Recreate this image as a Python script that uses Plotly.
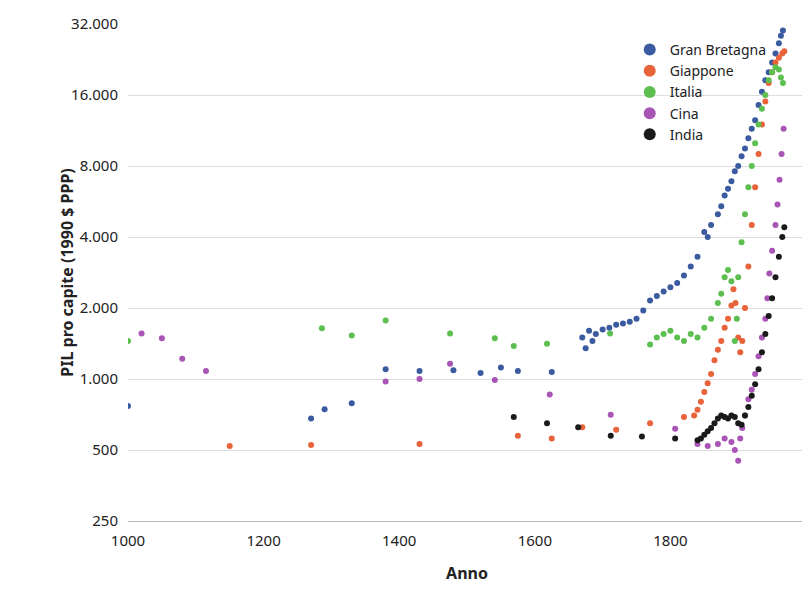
import plotly.graph_objects as go

# Year / GDP per capita (1990 $ PPP)
gb_years = [1000, 1270, 1290, 1330, 1380, 1430, 1480, 1520, 1550, 1575, 1625,
            1670, 1675, 1680, 1685, 1690, 1700, 1710, 1720, 1730, 1740, 1750, 1760,
            1770, 1780, 1790, 1800, 1810, 1820, 1830, 1840, 1850, 1855, 1860,
            1870, 1875, 1880, 1885, 1890, 1895, 1900, 1905, 1910, 1915, 1920,
            1925, 1930, 1935, 1940, 1945, 1950, 1955, 1960, 1963, 1966]
gb_vals = [768, 680, 745, 790, 1100, 1080, 1090, 1060, 1120, 1080, 1070,
           1500, 1350, 1600, 1450, 1550, 1620, 1650, 1700, 1720, 1750, 1800, 1950,
           2150, 2250, 2350, 2450, 2550, 2750, 3000, 3300, 4200, 4000, 4500,
           5000, 5400, 6000, 6400, 6900, 7600, 8000, 8800, 9500, 10500, 11500,
           12500, 14500, 16500, 18500, 20000, 22000, 24000, 26500, 28500, 30000]

jp_years = [1150, 1270, 1430, 1575, 1625, 1670, 1720, 1770, 1820,
            1835, 1840, 1845, 1850, 1855, 1860, 1865, 1870, 1875, 1880, 1885,
            1890, 1893, 1896, 1900, 1903, 1906, 1910, 1915, 1920, 1925, 1930,
            1935, 1940, 1945, 1950, 1955, 1960, 1965, 1968]
jp_vals = [520, 525, 530, 575, 560, 625, 610, 650, 690,
           700, 740, 800, 880, 960, 1050, 1200, 1330, 1450, 1650, 1800,
           2050, 2400, 2100, 1500, 1300, 1450, 2000, 3000, 4500, 6500, 9000,
           12000, 15000, 18000, 20000, 22000, 23000, 24000, 24500]

it_years = [1000, 1286, 1330, 1380, 1475, 1541, 1569, 1618, 1711,
            1770, 1780, 1790, 1800, 1810, 1820, 1830, 1840, 1850, 1860,
            1870, 1875, 1880, 1885, 1890, 1895, 1898, 1900, 1905, 1910, 1915,
            1920, 1925, 1930, 1935, 1940, 1945, 1950, 1955, 1960, 1963, 1966]
it_vals = [1450, 1640, 1530, 1770, 1560, 1490, 1380, 1410, 1560,
           1400, 1500, 1550, 1600, 1500, 1450, 1550, 1500, 1650, 1800,
           2100, 2300, 2700, 2900, 2600, 1450, 1800, 2700, 3800, 5000, 6500,
           8000, 10000, 12000, 14000, 16000, 18500, 20000, 21000, 20500, 19000, 18000]

cn_years = [1020, 1050, 1080, 1115, 1380, 1430, 1475, 1541, 1622, 1712, 1807,
            1840, 1855, 1870, 1880, 1890, 1895, 1900, 1903, 1906, 1910, 1915,
            1920, 1925, 1930, 1935, 1940, 1943, 1946, 1950, 1955, 1958, 1961,
            1964, 1967]
cn_vals = [1560, 1490, 1220, 1080, 975, 1000, 1160, 990, 860, 705, 615,
           530, 520, 530, 560, 540, 500, 450, 560, 620, 700, 820,
           900, 1050, 1250, 1500, 1800, 2200, 2800, 3500, 4500, 5500, 7000,
           9000, 11500]

in_years = [1569, 1618, 1664, 1712, 1758, 1807, 1840, 1845, 1850, 1855, 1860,
            1865, 1870, 1875, 1880, 1885, 1890, 1895, 1900, 1905, 1910,
            1915, 1920, 1925, 1930, 1935, 1940, 1945, 1950, 1955, 1960, 1965, 1968]
in_vals = [690, 650, 625, 575, 570, 560, 550, 560, 580, 600, 620,
           650, 680, 700, 690, 680, 700, 690, 650, 640, 700,
           760, 850, 950, 1100, 1300, 1550, 1850, 2200, 2700, 3300, 4000, 4400]

series = [("Gran Bretagna", gb_years, gb_vals, "#3a5ba0"),
          ("Giappone", jp_years, jp_vals, "#e8623a"),
          ("Italia", it_years, it_vals, "#5cbf4f"),
          ("Cina", cn_years, cn_vals, "#a855b5"),
          ("India", in_years, in_vals, "#1a1a1a")]

y_ticks = [250, 500, 1000, 2000, 4000, 8000, 16000, 32000]
y_labels = ["250", "500", "1.000", "2.000", "4.000", "8.000", "16.000", "32.000"]

fig = go.Figure()
for name, xs, ys, col in series:
    fig.add_trace(go.Scatter(x=xs, y=ys, name=name, mode="markers",
                             marker=dict(color=col, size=6)))

fig.update_layout(
    width=810, height=590,
    template="none",
    font=dict(family="Noto Sans", size=15, color="#222"),
    margin=dict(l=120, r=12, t=16, b=77),
    plot_bgcolor="white", paper_bgcolor="white",
    legend=dict(x=0.74, y=0.98, xanchor="left", yanchor="top",
                font=dict(size=14), itemsizing="constant", bgcolor="rgba(0,0,0,0)"),
    xaxis=dict(range=[1000, 2000], tickvals=[1000, 1200, 1400, 1600, 1800, 2000],
               showgrid=False, showline=True, linecolor="#bbb",
               ticks="outside", ticklen=6, tickcolor="white",
               title=dict(text="<b>Anno</b>", font=dict(size=16)), zeroline=False),
    yaxis=dict(type="log", range=[2.39794, 4.50515], tickvals=y_ticks, ticktext=y_labels,
               showgrid=True, gridcolor="#ddd", showline=False,
               ticks="outside", ticklen=6, tickcolor="white",
               title=dict(text="<b>PIL pro capite (1990 $ PPP)</b>", font=dict(size=16)),
               zeroline=False),
)

fig.write_html("out.html")
